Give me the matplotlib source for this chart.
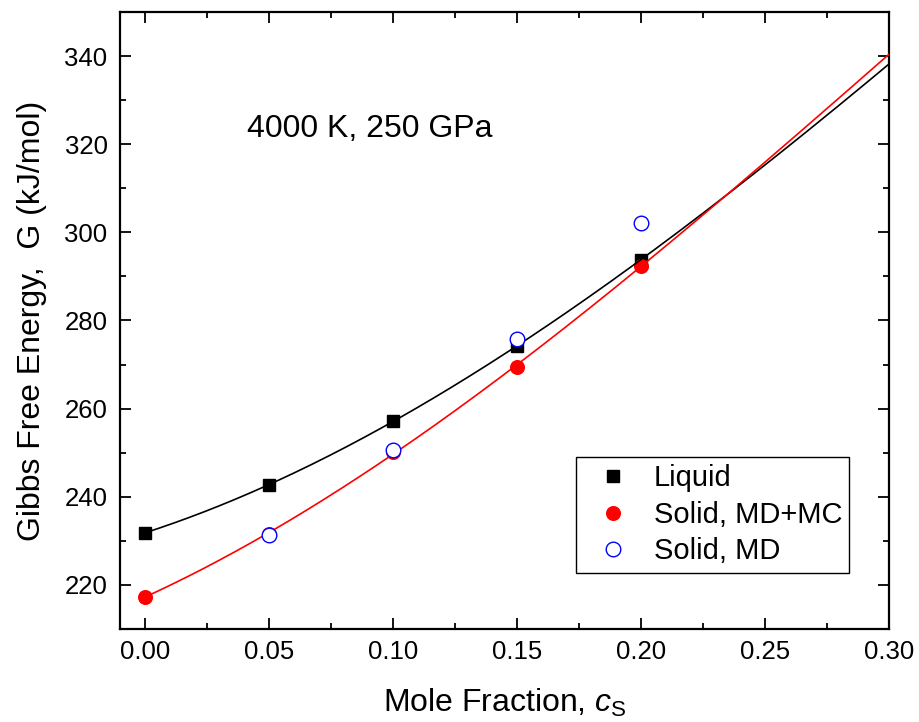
import numpy as np
import matplotlib
matplotlib.use('Agg')
import matplotlib.pyplot as plt
from matplotlib.ticker import MultipleLocator, FormatStrFormatter

plt.rcParams['font.family'] = ['Liberation Sans', 'DejaVu Sans']
plt.rcParams['mathtext.fontset'] = 'custom'
plt.rcParams['mathtext.rm'] = 'Liberation Sans'
plt.rcParams['mathtext.it'] = 'Liberation Sans:italic'

# data points
x_liquid = [0.00, 0.05, 0.10, 0.15, 0.20]
g_liquid = [231.8, 242.7, 257.2, 274.2, 293.8]

x_mdmc = [0.00, 0.05, 0.10, 0.15, 0.20]
g_mdmc = [217.3, 231.6, 250.1, 269.4, 292.4]

x_md = [0.05, 0.10, 0.15, 0.20]
g_md = [231.4, 250.6, 275.9, 302.2]

# fit curves, sampled off the figure
fit_x = [0.00, 0.05, 0.10, 0.15, 0.20, 0.25, 0.30]
fit_liquid = [231.8, 242.8, 257.0, 274.3, 293.8, 315.3, 338.2]
fit_mdmc = [217.3, 231.6, 250.0, 269.8, 292.2, 316.0, 340.4]

fig = plt.figure(figsize=(9.19, 7.22), dpi=100)
ax = fig.add_axes([0.1306, 0.1288, 0.8368, 0.8546])

xs = np.linspace(0, 0.30, 300)
cl = np.polyfit(fit_x, fit_liquid, 3)
cs = np.polyfit(fit_x, fit_mdmc, 3)

ax.plot(x_liquid, g_liquid, 's', color='black', markersize=9, label='Liquid', zorder=3)
ax.plot(x_mdmc, g_mdmc, 'o', color='red', markersize=9.8, label='Solid, MD+MC', zorder=3)
ax.plot(xs, np.polyval(cl, xs), '-', color='black', linewidth=1.2, zorder=4)
ax.plot(xs, np.polyval(cs, xs), '-', color='red', linewidth=1.2, zorder=4)
ax.plot(x_md, g_md, 'o', mfc='white', mec='blue', mew=1.0, markersize=10.5,
        label='Solid, MD', zorder=5)

ax.set_xlim(-0.01, 0.30)
ax.set_ylim(210, 350)
ax.xaxis.set_major_locator(MultipleLocator(0.05))
ax.xaxis.set_minor_locator(MultipleLocator(0.025))
ax.yaxis.set_major_locator(MultipleLocator(20))
ax.yaxis.set_minor_locator(MultipleLocator(10))
ax.xaxis.set_major_formatter(FormatStrFormatter('%.2f'))

ax.tick_params(which='both', direction='in', top=True, right=True, width=1.3)
ax.tick_params(which='major', length=8, labelsize=18.5)
ax.tick_params(axis='x', which='major', pad=8)
ax.tick_params(axis='y', which='major', pad=9)
ax.tick_params(which='minor', length=4)
for sp in ax.spines.values():
    sp.set_linewidth(1.6)

ax.set_xlabel(r'Mole Fraction, $\mathit{c}_\mathrm{S}$', fontsize=23)
ax.set_ylabel('Gibbs Free Energy,  G (kJ/mol)', fontsize=23)
ax.xaxis.set_label_coords(0.5, -0.094)
ax.yaxis.set_label_coords(-0.095, 0.5)

ax.text(0.165, 0.797, '4000 K, 250 GPa', transform=ax.transAxes, fontsize=23,
        va='baseline', ha='left')

leg = ax.legend(loc='upper left', bbox_to_anchor=(0.5934, 0.2793), fontsize=21,
                frameon=True, fancybox=False, edgecolor='black', framealpha=1,
                borderpad=0.25, handletextpad=0.4, labelspacing=0.3,
                handlelength=2.0, borderaxespad=0)
leg.get_frame().set_linewidth(1.0)

fig.savefig('out.png', dpi=100)
